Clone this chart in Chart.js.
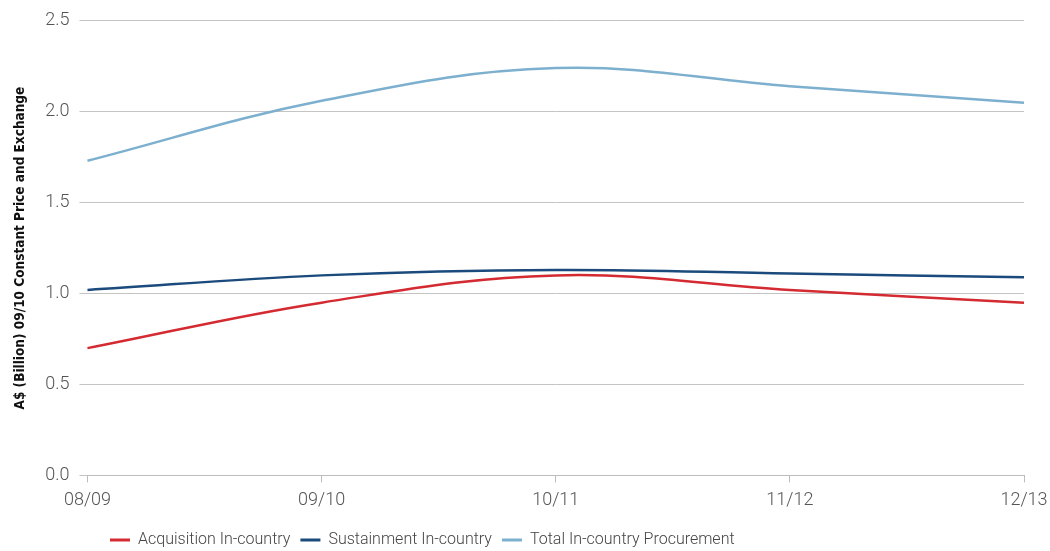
<!DOCTYPE html>
<html>
<head>
<meta charset="utf-8">
<script src="https://cdn.jsdelivr.net/npm/chart.js@4/dist/chart.umd.min.js"></script>
<style>
  html, body { margin: 0; padding: 0; background: #fff; }
  #wrap { width: 1050px; height: 551px; }
</style>
</head>
<body>
<div id="wrap"><canvas id="lineChart"></canvas></div>
<script>
const years = ['08/09', '09/10', '10/11', '11/12', '12/13'];
const acquisition = [0.70, 0.95, 1.10, 1.02, 0.95];
const sustainment = [1.02, 1.10, 1.13, 1.11, 1.09];
const totalProcurement = [1.73, 2.06, 2.24, 2.14, 2.05];
const yTicks = [0, 0.5, 1.0, 1.5, 2.0, 2.5];

// nudge the legend to sit left of centre and a bit lower, like the original
const legendShift = {
    id: 'legendShift',
    afterLayout(chart) {
        const lg = chart.legend;
        if (lg) {
            lg.left = 100;
            lg.top += 4;
        }
    }
};

const ctx = document.getElementById('lineChart').getContext('2d');
const lineChart = new Chart(ctx, {
    type: 'line',
    data: {
        labels: years,
        datasets: [{
            label: 'Acquisition In-country',
            data: acquisition,
            borderColor: '#d42a31',
            backgroundColor: '#d42a31'
        }, {
            label: 'Sustainment In-country',
            data: sustainment,
            borderColor: '#1b4a7c',
            backgroundColor: '#1b4a7c'
        }, {
            label: 'Total In-country Procurement',
            data: totalProcurement,
            borderColor: '#7db0cf',
            backgroundColor: '#7db0cf'
        }]
    },
    options: {
        responsive: true,
        maintainAspectRatio: false,
        animation: false,
        layout: {
            padding: { top: 8, right: 2, left: 12, bottom: -3 }
        },
        elements: {
            line: { borderWidth: 2.5, tension: 0.38, fill: false },
            point: { radius: 0 }
        },
        scales: {
            x: {
                afterFit(scale) {
                    scale.paddingRight = 26;
                },
                grid: {
                    drawOnChartArea: false,
                    drawTicks: true,
                    tickLength: 7,
                    color: '#bdbdbd'
                },
                border: { color: '#bdbdbd' },
                ticks: {
                    color: '#555',
                    font: { family: 'Roboto', size: 18, weight: 300 },
                    padding: 7,
                    maxRotation: 0
                }
            },
            y: {
                min: 0,
                max: 2.5,
                afterBuildTicks(axis) {
                    axis.ticks = yTicks.map(v => ({ value: v }));
                },
                grid: {
                    color: '#c4c4c4',
                    tickLength: 8
                },
                border: { display: false },
                ticks: {
                    color: '#555',
                    font: { family: 'Roboto', size: 18, weight: 300 },
                    padding: 10,
                    callback: v => Number(v).toFixed(1)
                },
                title: {
                    display: true,
                    text: 'A$ (Billion) 09/10 Constant Price and Exchange',
                    color: '#111',
                    font: { family: "'DejaVu Sans Condensed', 'Roboto'", size: 13.5, weight: 'bold' },
                    padding: { top: 0, bottom: 7 }
                }
            }
        },
        plugins: {
            legend: {
                position: 'bottom',
                align: 'start',
                labels: {
                    boxWidth: 20,
                    boxHeight: 3,
                    padding: 10,
                    color: '#444',
                    font: { family: 'Roboto', size: 16, weight: 300 },
                    generateLabels: chart => Chart.defaults.plugins.legend.labels.generateLabels(chart)
                        .map(item => ({ ...item, lineWidth: 0 }))
                }
            },
            tooltip: { enabled: false }
        }
    },
    plugins: [legendShift]
});
</script>
</body>
</html>
